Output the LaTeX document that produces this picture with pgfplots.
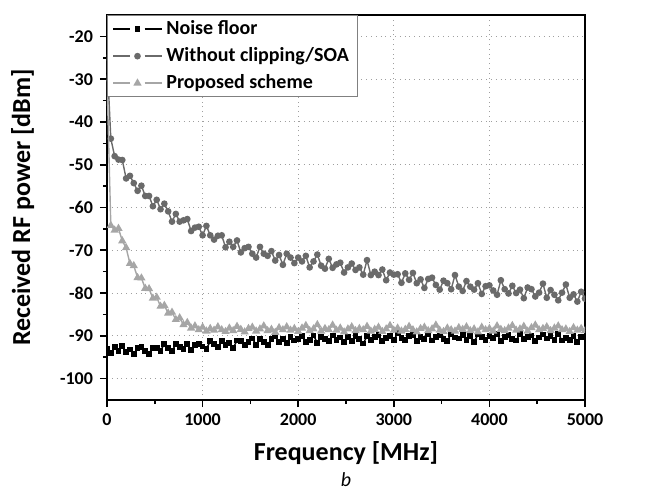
\documentclass[border=0pt]{standalone}
\usepackage{fontspec}
\setmainfont{Carlito}
\usepackage{pgfplots}
\pgfplotsset{compat=1.18}

\definecolor{wclip}{HTML}{6A6A6A}
\definecolor{prop}{HTML}{A6A6A6}

\begin{document}
\begin{tikzpicture}
\begin{axis}[
    scale only axis,
    width=239pt, height=192.5pt,
    xmin=0, xmax=5000,
    ymin=-105, ymax=-15,
    xtick={0,1000,2000,3000,4000,5000},
    ytick={-100,-90,-80,-70,-60,-50,-40,-30,-20},
    minor x tick num=1,
    minor y tick num=1,
    xtick pos=left, ytick pos=left,
    tick align=outside,
    major tick length=3.5pt, minor tick length=2pt,
    tick style={black, line width=0.8pt},
    axis line style={black, line width=1pt},
    grid=major,
    major grid style={dotted, gray!75, line width=0.5pt},
    clip marker paths=true,
    /pgf/number format/assume math mode=true,
    /pgf/number format/1000 sep={},
    tick label style={font=\bfseries\fontsize{9}{10}\selectfont},
    xlabel={Frequency [MHz]},
    ylabel={Received RF power [dBm]},
    xlabel style={font=\bfseries\fontsize{13}{15}\selectfont, yshift=-1pt},
    ylabel style={font=\bfseries\fontsize{13}{15}\selectfont, yshift=6pt},
    legend style={at={(0,1)}, anchor=north west, draw=gray, line width=0.6pt, fill=white,
        font=\bfseries\fontsize{10}{11}\selectfont, row sep=1pt, inner xsep=2.5pt, inner ysep=0.5pt},
    legend cell align=left,
    legend image code/.code={
        \draw[#1, mark=none] (0cm,0cm) -- (0.3cm,0cm);
        \draw[#1, mark=none] (0.55cm,0cm) -- (0.85cm,0cm);
        \draw[#1, only marks] plot coordinates {(0.425cm,0cm)};
    },
]
\addplot[black, line width=0.7pt, mark=square*, mark size=1.1pt] coordinates {
(0,-93.0) (40,-94.1) (80,-92.7) (120,-93.5) (160,-92.4) (200,-93.8) (240,-93.2) (280,-94.3) (320,-92.9) (360,-92.6)
(400,-93.6) (440,-94.2) (480,-92.8) (520,-92.8) (560,-93.5) (600,-91.9) (640,-92.9) (680,-93.5) (720,-92.0) (760,-92.7)
(800,-93.0) (840,-92.0) (880,-93.4) (920,-92.2) (960,-91.9) (1000,-92.5) (1040,-93.0) (1080,-91.3) (1120,-92.0) (1160,-92.6)
(1200,-91.3) (1240,-92.2) (1280,-91.6) (1320,-92.8) (1360,-91.1) (1400,-91.2) (1440,-92.2) (1480,-91.5) (1520,-90.6) (1560,-92.1)
(1600,-90.8) (1640,-91.4) (1680,-92.1) (1720,-90.8) (1760,-90.1) (1800,-91.4) (1840,-90.8) (1880,-91.7) (1920,-90.3) (1960,-91.1)
(2000,-90.7) (2040,-90.1) (2080,-91.4) (2120,-91.0) (2160,-89.9) (2200,-91.6) (2240,-90.3) (2280,-90.7) (2320,-91.2) (2360,-89.9)
(2400,-90.9) (2440,-90.4) (2480,-91.4) (2520,-90.3) (2560,-91.3) (2600,-90.0) (2640,-90.7) (2680,-91.8) (2720,-90.1) (2760,-90.9)
(2800,-90.3) (2840,-89.8) (2880,-91.3) (2920,-90.5) (2960,-90.1) (3000,-91.0) (3040,-89.4) (3080,-90.5) (3120,-90.9) (3160,-90.1)
(3200,-89.8) (3240,-91.3) (3280,-90.2) (3320,-90.7) (3360,-89.6) (3400,-91.1) (3440,-90.3) (3480,-89.9) (3520,-90.8) (3560,-91.2)
(3600,-89.5) (3640,-90.4) (3680,-90.6) (3720,-89.8) (3760,-91.0) (3800,-90.1) (3840,-91.4) (3880,-89.7) (3920,-90.2) (3960,-90.9)
(4000,-90.0) (4040,-90.5) (4080,-89.6) (4120,-91.2) (4160,-90.3) (4200,-89.8) (4240,-90.7) (4280,-91.1) (4320,-89.5) (4360,-90.8)
(4400,-90.2) (4440,-89.9) (4480,-91.3) (4520,-90.4) (4560,-89.7) (4600,-90.6) (4640,-90.1) (4680,-91.0) (4720,-89.6) (4760,-91.1)
(4800,-90.5) (4840,-90.9) (4880,-90.0) (4920,-91.4) (4960,-90.2) (5000,-90.4)
};
\addplot[wclip, line width=0.7pt, mark=*, mark size=1.3pt] coordinates {
(0,-25.0) (40,-43.9) (80,-48.0) (120,-48.8) (160,-48.9) (200,-53.2) (240,-52.6) (280,-54.3) (320,-56.1) (360,-54.9)
(400,-57.3) (440,-57.3) (480,-59.7) (520,-58.2) (560,-60.4) (600,-59.1) (640,-60.9) (680,-63.3) (720,-61.5) (760,-63.3)
(800,-63.0) (840,-62.7) (880,-65.5) (920,-64.7) (960,-64.5) (1000,-66.5) (1040,-64.3) (1080,-66.5) (1120,-67.5) (1160,-66.6)
(1200,-66.5) (1240,-69.3) (1280,-68.0) (1320,-69.2) (1360,-67.7) (1400,-70.5) (1440,-69.5) (1480,-69.2) (1520,-70.8) (1560,-71.7)
(1600,-69.2) (1640,-70.8) (1680,-71.3) (1720,-70.2) (1760,-72.4) (1800,-71.1) (1840,-73.4) (1880,-70.8) (1920,-71.7) (1960,-73.0)
(2000,-71.7) (2040,-72.6) (2080,-71.3) (2120,-74.0) (2160,-72.6) (2200,-71.0) (2240,-73.6) (2280,-74.3) (2320,-72.0) (2360,-74.1)
(2400,-73.3) (2440,-72.9) (2480,-75.2) (2520,-74.0) (2560,-73.1) (2600,-74.6) (2640,-74.0) (2680,-75.7) (2720,-72.3) (2760,-75.8)
(2800,-75.0) (2840,-75.8) (2880,-74.5) (2920,-77.0) (2960,-75.2) (3000,-75.7) (3040,-75.6) (3080,-77.6) (3120,-75.4) (3160,-76.9)
(3200,-75.3) (3240,-77.7) (3280,-76.8) (3320,-78.8) (3360,-76.7) (3400,-76.4) (3440,-78.1) (3480,-79.2) (3520,-77.1) (3560,-77.7)
(3600,-79.1) (3640,-75.8) (3680,-78.5) (3720,-79.5) (3760,-77.2) (3800,-78.5) (3840,-79.2) (3880,-77.7) (3920,-80.2) (3960,-78.4)
(4000,-78.2) (4040,-79.4) (4080,-80.4) (4120,-77.0) (4160,-79.1) (4200,-80.1) (4240,-78.3) (4280,-80.0) (4320,-79.2) (4360,-81.2)
(4400,-78.7) (4440,-79.1) (4480,-80.8) (4520,-79.9) (4560,-77.8) (4600,-81.1) (4640,-79.3) (4680,-80.4) (4720,-81.7) (4760,-79.9)
(4800,-78.0) (4840,-81.1) (4880,-80.3) (4920,-82.0) (4960,-79.7) (5000,-81.3)
};
\addplot[prop, line width=0.7pt, mark=triangle*, mark size=1.7pt] coordinates {
(0,-30.0) (40,-64.2) (80,-65.3) (120,-64.9) (160,-67.8) (200,-69.4) (240,-73.1) (280,-73.6) (320,-76.4) (360,-76.5)
(400,-78.9) (440,-79.0) (480,-81.2) (520,-81.0) (560,-83.1) (600,-82.9) (640,-84.7) (680,-84.5) (720,-86.2) (760,-85.8)
(800,-87.4) (840,-86.9) (880,-88.2) (920,-87.7) (960,-88.6) (1000,-88.0) (1040,-88.9) (1080,-88.3) (1120,-88.7) (1160,-87.9)
(1200,-88.6) (1240,-89.0) (1280,-88.2) (1320,-88.8) (1360,-87.8) (1400,-88.5) (1440,-89.1) (1480,-88.3) (1520,-88.0) (1560,-88.9)
(1600,-88.4) (1640,-87.7) (1680,-88.8) (1720,-88.5) (1760,-89.2) (1800,-88.1) (1840,-88.6) (1880,-87.9) (1920,-88.7) (1960,-88.3)
(2000,-89.0) (2040,-88.2) (2080,-87.6) (2120,-88.8) (2160,-88.4) (2200,-87.4) (2240,-88.9) (2280,-88.3) (2320,-88.6) (2360,-87.5)
(2400,-88.7) (2440,-88.2) (2480,-89.1) (2520,-88.4) (2560,-87.9) (2600,-88.8) (2640,-88.3) (2680,-88.6) (2720,-87.8) (2760,-88.9)
(2800,-88.5) (2840,-88.0) (2880,-89.0) (2920,-88.4) (2960,-87.6) (3000,-88.7) (3040,-88.2) (3080,-88.9) (3120,-88.5) (3160,-87.8)
(3200,-88.6) (3240,-89.1) (3280,-88.3) (3320,-88.0) (3360,-88.8) (3400,-88.4) (3440,-87.5) (3480,-88.7) (3520,-89.0) (3560,-88.2)
(3600,-88.6) (3640,-88.9) (3680,-88.1) (3720,-88.5) (3760,-87.9) (3800,-88.8) (3840,-88.4) (3880,-89.1) (3920,-88.0) (3960,-88.6)
(4000,-88.3) (4040,-88.9) (4080,-87.7) (4120,-88.5) (4160,-88.8) (4200,-88.2) (4240,-87.6) (4280,-88.7) (4320,-88.4) (4360,-87.8)
(4400,-88.9) (4440,-88.1) (4480,-87.5) (4520,-88.6) (4560,-88.3) (4600,-87.9) (4640,-88.8) (4680,-88.2) (4720,-87.7) (4760,-88.6)
(4800,-88.4) (4840,-89.0) (4880,-88.1) (4920,-88.7) (4960,-88.3) (5000,-88.8)
};
\legend{Noise floor, Without clipping/SOA, Proposed scheme}
\end{axis}
\node[font=\itshape\fontsize{10}{12}\selectfont] at (119.5pt,-40pt) {b};
\pgfresetboundingbox
\path[use as bounding box] (-53.5pt,-46.5pt) rectangle (275.5pt,200pt);
\end{tikzpicture}
\end{document}
